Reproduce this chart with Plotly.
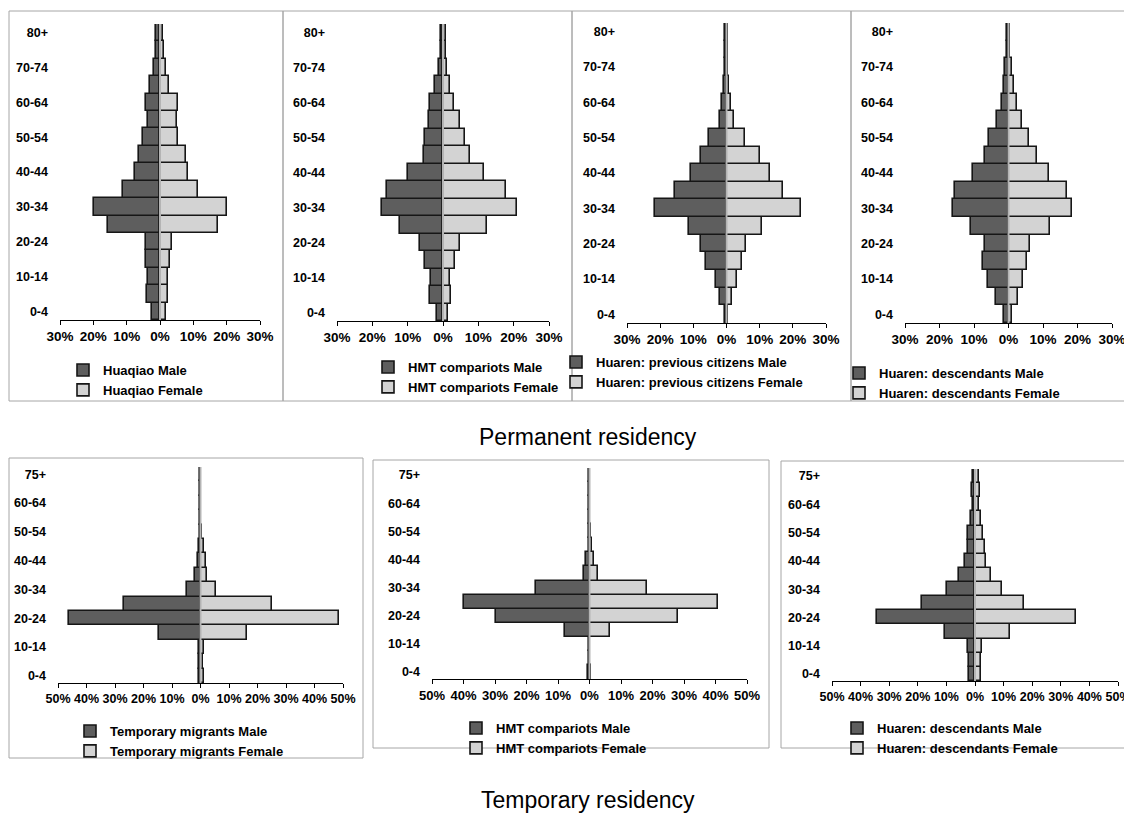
import plotly.graph_objects as go

# ---------------- data ----------------
ages_perm = ["0-4", "5-9", "10-14", "15-19", "20-24", "25-29", "30-34", "35-39", "40-44",
             "45-49", "50-54", "55-59", "60-64", "65-69", "70-74", "75-79", "80+"]
ages_temp = ["0-4", "5-9", "10-14", "15-19", "20-24", "25-29", "30-34", "35-39", "40-44",
             "45-49", "50-54", "55-59", "60-64", "65-74", "75+"]

huaqiao_male = [2.3, 4.0, 3.7, 4.3, 4.3, 15.7, 19.7, 11.2, 7.5, 6.3, 5.0, 3.5, 4.2, 3.0, 1.8, 1.3, 1.2]
huaqiao_female = [1.8, 2.5, 2.5, 3.0, 3.7, 17.3, 20.0, 11.5, 8.5, 7.7, 5.5, 5.0, 5.5, 2.8, 1.7, 1.3, 0.8]

hmt_perm_male = [1.7, 3.8, 3.5, 5.0, 6.5, 12.1, 17.4, 15.9, 9.9, 5.5, 5.0, 4.1, 3.6, 2.4, 1.2, 0.6, 0.7]
hmt_perm_female = [1.4, 2.2, 1.9, 3.3, 4.7, 12.5, 21.0, 17.8, 11.7, 7.7, 6.2, 4.7, 3.0, 2.1, 1.1, 0.8, 0.9]

prev_cit_male = [0.6, 2.1, 3.3, 6.2, 7.8, 11.4, 21.5, 15.5, 10.8, 7.8, 5.2, 2.0, 1.4, 0.7, 0.5, 0.4, 0.6]
prev_cit_female = [0.5, 1.6, 3.2, 4.7, 5.9, 10.7, 22.4, 17.0, 13.2, 10.2, 5.5, 2.2, 1.4, 0.9, 0.5, 0.4, 0.6]

desc_perm_male = [1.4, 3.7, 5.9, 7.3, 6.7, 11.0, 16.1, 15.4, 10.3, 6.8, 5.6, 3.4, 2.0, 1.4, 0.9, 0.5, 0.4]
desc_perm_female = [1.0, 2.7, 4.3, 5.5, 6.2, 12.0, 18.3, 17.0, 11.7, 8.2, 6.0, 4.0, 2.5, 1.6, 0.9, 0.5, 0.4]

tempmig_male = [0.6, 0.4, 0.6, 14.4, 46.0, 26.9, 4.7, 1.8, 0.9, 0.6, 0.3, 0.1, 0.1, 0.1, 0.1]
tempmig_female = [1.2, 0.8, 1.2, 16.4, 48.5, 25.1, 5.3, 2.3, 1.8, 1.2, 0.5, 0.3, 0.1, 0.1, 0.1]

hmt_temp_male = [0.5, 0.1, 0.3, 7.8, 29.7, 40.0, 17.0, 1.8, 1.0, 0.2, 0.1, 0.1, 0.1, 0.1, 0.1]
hmt_temp_female = [0.6, 0.2, 0.3, 6.4, 28.1, 40.9, 18.1, 2.8, 1.4, 0.8, 0.5, 0.2, 0.1, 0.1, 0.2]

desc_temp_male = [2.0, 2.0, 2.6, 10.6, 34.3, 18.5, 9.7, 5.5, 3.6, 2.6, 2.3, 1.5, 0.7, 0.9, 0.7]
desc_temp_female = [2.1, 2.2, 2.4, 12.1, 35.2, 17.3, 9.4, 5.7, 3.8, 3.4, 2.9, 2.0, 1.4, 1.7, 1.4]

perm_ticks = [-30, -20, -10, 0, 10, 20, 30]
perm_ticktext = ["30%", "20%", "10%", "0%", "10%", "20%", "30%"]
temp_ticks = [-50, -40, -30, -20, -10, 0, 10, 20, 30, 40, 50]
temp_ticktext = ["50%", "40%", "30%", "20%", "10%", "0%", "10%", "20%", "30%", "40%", "50%"]

titles = ["Permanent residency", "Temporary residency"]

# ---------------- layout helpers ----------------
W, H = 1132, 813
OFF = 8  # page body margin
MALE_COLOR = "#5e5e5e"
FEMALE_COLOR = "#d3d3d3"
EDGE = "#161616"
FONT = "Liberation Sans, Arial, sans-serif"

panels = [
    dict(name="Huaqiao", ages=ages_perm, m=huaqiao_male, f=huaqiao_female, tv=perm_ticks, tt=perm_ticktext, r=30,
         plot=(60, 260, 24, 320), frame=(9, 283, 11, 401), leg=(103, 369), xfs=13.5),
    dict(name="HMT compariots", ages=ages_perm, m=hmt_perm_male, f=hmt_perm_female, tv=perm_ticks, tt=perm_ticktext, r=30,
         plot=(337, 549, 24, 321), frame=(283, 572, 11, 401), leg=(408, 366), xfs=13.5),
    dict(name="Huaren: previous citizens", ages=ages_perm, m=prev_cit_male, f=prev_cit_female, tv=perm_ticks, tt=perm_ticktext, r=30,
         plot=(627, 826, 23, 323), frame=(572, 851, 11, 401), leg=(596, 361), xfs=13.5),
    dict(name="Huaren: descendants", ages=ages_perm, m=desc_perm_male, f=desc_perm_female, tv=perm_ticks, tt=perm_ticktext, r=30,
         plot=(905, 1112, 23, 323), frame=(851, 1139, 11, 401), leg=(879, 372), xfs=13.5),
    dict(name="Temporary migrants", ages=ages_temp, m=tempmig_male, f=tempmig_female, tv=temp_ticks, tt=temp_ticktext, r=50,
         plot=(58, 343, 467, 683), frame=(9, 363, 458, 758), leg=(110, 730), xfs=12.5),
    dict(name="HMT compariots", ages=ages_temp, m=hmt_temp_male, f=hmt_temp_female, tv=temp_ticks, tt=temp_ticktext, r=50,
         plot=(432, 747, 468, 679), frame=(373, 769, 460, 748), leg=(496, 727), xfs=13),
    dict(name="Huaren: descendants", ages=ages_temp, m=desc_temp_male, f=desc_temp_female, tv=temp_ticks, tt=temp_ticktext, r=50,
         plot=(832, 1118, 469, 681), frame=(781, 1139, 461, 748), leg=(877, 727), xfs=12.5),
]


def px_x(v):
    return (v - OFF) / W


def px_y(v):
    return 1 - (v - OFF) / H


fig = go.Figure()
layout = dict(
    width=W, height=H, margin=dict(l=0, r=0, t=0, b=0, autoexpand=False),
    paper_bgcolor="white", plot_bgcolor="white",
    barmode="relative", bargap=0,
    showlegend=True, hovermode=False,
    font=dict(family=FONT, size=13, color="black", weight="bold"),
)
shapes = []
annotations = []

for i, p in enumerate(panels, start=1):
    xa = "x" if i == 1 else f"x{i}"
    ya = "y" if i == 1 else f"y{i}"
    leg = "legend" if i == 1 else f"legend{i}"
    fig.add_trace(go.Bar(
        y=p["ages"], x=[-v for v in p["m"]], orientation="h",
        name=f"{p['name']} Male", xaxis=xa, yaxis=ya, legend=leg,
        marker=dict(color=MALE_COLOR, line=dict(color=EDGE, width=1.6)),
    ))
    fig.add_trace(go.Bar(
        y=p["ages"], x=p["f"], orientation="h",
        name=f"{p['name']} Female", xaxis=xa, yaxis=ya, legend=leg,
        marker=dict(color=FEMALE_COLOR, line=dict(color=EDGE, width=1.6)),
    ))
    x0, x1, y0, y1 = p["plot"]
    xkey = "xaxis" if i == 1 else f"xaxis{i}"
    ykey = "yaxis" if i == 1 else f"yaxis{i}"
    layout[xkey] = dict(
        domain=[px_x(x0), px_x(x1)], anchor=ya, range=[-p["r"], p["r"]],
        tickvals=p["tv"], ticktext=p["tt"], ticks="outside", ticklen=4, tickwidth=1,
        tickcolor="black", showline=True, linecolor="black", linewidth=1,
        showgrid=False, zeroline=False, fixedrange=True, tickangle=0, automargin=False,
        tickfont=dict(family=FONT, size=p["xfs"], weight="bold"),
    )
    layout[ykey] = dict(
        domain=[px_y(y1), px_y(y0)], anchor=xa, type="category",
        categoryorder="array", categoryarray=p["ages"],
        range=[-0.5, len(p["ages"]) - 0.5],
        tickvals=p["ages"][::2], ticktext=p["ages"][::2],
        ticks="", showline=False, showgrid=False, zeroline=False, fixedrange=True,
        ticklabelstandoff=11, automargin=False,
        tickfont=dict(family=FONT, size=12.5, weight="bold"),
    )
    lx, ly = p["leg"]
    layout[leg] = dict(
        x=px_x(lx - 40), y=px_y(ly - 14), xanchor="left", yanchor="top",
        bgcolor="rgba(0,0,0,0)", borderwidth=0, traceorder="normal",
        font=dict(family=FONT, size=13, weight="bold", color="black"),
        itemwidth=30, tracegroupgap=0,
    )
    shapes.append(dict(type="line", xref=xa, yref=f"{ya} domain", x0=0, x1=0, y0=0, y1=1,
                       line=dict(color="#b4b4b4", width=2), layer="above"))
    fx0, fx1, fy0, fy1 = p["frame"]
    shapes.append(dict(type="rect", xref="paper", yref="paper",
                       x0=px_x(fx0), x1=min(px_x(fx1), 0.9995), y0=px_y(fy1), y1=px_y(fy0),
                       line=dict(color="#a6a6a6", width=1), fillcolor="rgba(0,0,0,0)", layer="below"))

for txt, yy in zip(titles, [437, 800]):
    annotations.append(dict(text=txt, x=px_x(588), y=px_y(yy), xref="paper", yref="paper",
                            showarrow=False, xanchor="center", yanchor="middle",
                            font=dict(family=FONT, size=23, weight="normal", color="black")))

layout["shapes"] = shapes
layout["annotations"] = annotations
fig.update_layout(**layout)

fig.write_html("out.html")
